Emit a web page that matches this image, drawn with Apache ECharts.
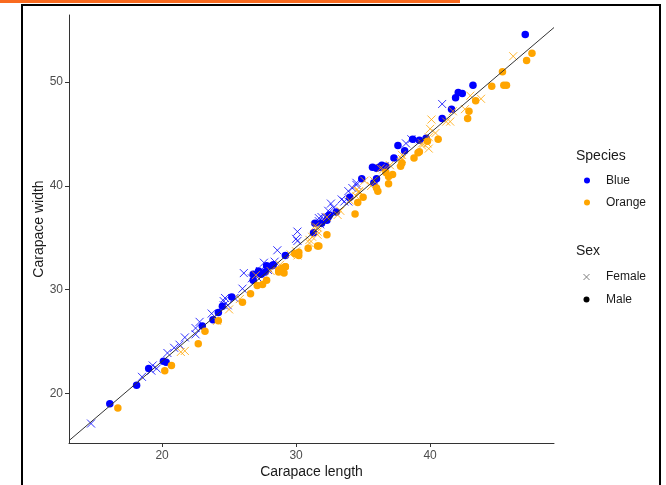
<!DOCTYPE html>
<html>
<head>
<meta charset="utf-8">
<title>Crab carapace: length vs width</title>
<script src="https://cdn.jsdelivr.net/npm/echarts@6/dist/echarts.min.js"></script>
<style>
  html, body { margin: 0; padding: 0; background: #ffffff; }
  #chart { width: 666px; height: 485px; }
</style>
</head>
<body>
<div id="chart"></div>
<script>
// Carapace length (CL) and width (CW), in mm, for each species / sex group
const blueMaleCL = [16.1,18.1,19.0,20.1,20.3,23.0,23.8,24.5,24.2,25.2,27.3,26.8,27.7,27.2,27.4,26.8,28.2,28.3,27.8,29.2,31.3,31.9,31.4,32.4,32.5,32.3,33.0,35.8,34.0,36.0,34.9,36.0,36.5,35.7,38.1,36.2,37.3,36.4,36.7,37.6,38.7,39.7,39.2,42.1,41.6,40.9,41.9,43.2,42.4,47.1];
const blueMaleCW = [19.0,20.8,22.4,23.1,23.0,26.5,27.1,28.4,27.8,29.3,31.6,31.5,31.7,31.8,31.5,30.9,32.3,32.4,32.3,33.3,35.5,36.4,36.4,37.0,37.2,36.7,37.5,40.3,38.9,40.7,40.7,41.7,41.8,41.8,43.4,41.8,42.7,42.0,41.9,43.9,44.5,44.6,44.4,49.0,47.4,46.5,48.5,49.7,48.9,54.6];

const blueFemaleCL = [14.7,19.3,18.5,19.2,19.6,20.4,20.9,21.3,21.7,22.5,22.5,22.8,24.7,24.6,23.7,24.9,26.0,24.6,25.4,26.1,27.1,26.7,27.9,27.3,27.6,27.9,28.4,28.6,30.0,30.1,30.1,31.7,32.2,31.8,31.9,31.7,33.9,32.6,32.4,33.4,32.8,33.9,33.6,34.5,34.5,34.2,36.6,38.2,38.6,40.9];
const blueFemaleCW = [17.1,22.7,21.6,22.2,22.4,23.9,24.4,24.7,25.4,26.3,25.7,26.9,29.2,28.5,27.7,28.5,30.1,28.9,29.2,31.6,31.2,31.1,31.9,31.8,32.6,32.1,32.7,33.8,34.9,34.7,35.6,36.9,37.0,36.3,37.0,36.6,38.5,38.3,37.6,38.7,37.9,39.5,38.5,40.3,40.1,39.8,41.9,44.1,44.5,47.9];

const orangeMaleCL = [16.7,20.2,20.7,22.7,23.2,24.2,26.0,27.1,26.6,27.5,29.2,28.9,29.1,28.7,28.7,27.8,29.2,29.9,29.0,30.2,30.9,30.2,31.7,32.3,31.6,35.0,36.1,34.4,34.6,36.0,36.9,36.7,38.8,37.9,37.8,36.9,37.2,39.2,39.1,39.8,40.6,42.8,42.9,45.5,45.7,43.4,45.4,44.6,47.2,47.6];
const orangeMaleCW = [18.6,22.2,22.7,24.8,26.0,27.0,28.8,30.4,29.6,30.5,32.2,31.8,31.6,31.9,31.7,30.9,32.2,33.5,32.1,33.3,34.0,33.6,34.2,35.3,34.2,38.9,39.5,37.3,38.4,39.8,40.9,41.3,42.7,42.2,41.9,40.2,41.1,43.3,43.2,44.3,44.5,46.5,47.2,49.7,49.7,48.2,51.0,49.6,52.1,52.8];

const orangeFemaleCL = [21.4,21.7,24.1,25.0,25.8,27.0,28.8,28.1,29.6,30.0,30.1,31.2,31.6,31.0,31.0,31.6,31.4,31.6,32.3,33.1,34.5,34.5,33.3,34.0,34.7,37.9,35.1,35.6,36.5,37.0,34.7,35.8,36.3,37.8,37.9,39.9,39.4,40.1,40.4,39.8,39.4,40.0,41.5,39.9,43.8,41.2,41.7,42.6,43.0,46.2];
const orangeFemaleCW = [24.0,24.1,27.0,28.1,29.1,31.4,32.4,31.8,33.4,33.7,33.3,35.1,35.3,34.5,34.8,36.0,36.1,35.6,37.0,37.2,39.6,39.0,37.6,38.6,39.5,43.0,40.5,40.0,41.6,42.0,39.4,40.5,41.7,42.3,42.6,43.6,43.9,46.4,45.1,44.1,44.1,45.5,46.2,44.7,48.4,46.2,47.2,47.4,48.7,52.5];

// Axis tick labels
const xTicks = [20, 30, 40];
const yTicks = [20, 30, 40, 50];

const BLUE = '#0000FF';
const ORANGE = '#FFA500';
const FONT = '"Liberation Sans", Arial, sans-serif';

const zip = (a, b) => a.map((v, i) => [v, b[i]]);

// Pooled least-squares fit of width on length
const allCL = [].concat(blueMaleCL, blueFemaleCL, orangeMaleCL, orangeFemaleCL);
const allCW = [].concat(blueMaleCW, blueFemaleCW, orangeMaleCW, orangeFemaleCW);
const mean = a => a.reduce((s, v) => s + v, 0) / a.length;
const mx = mean(allCL), my = mean(allCW);
let sxy = 0, sxx = 0;
allCL.forEach((x, i) => { sxy += (x - mx) * (allCW[i] - my); sxx += (x - mx) * (x - mx); });
const slope = sxy / sxx;
const intercept = my - slope * mx;

// Axis limits padded by 5% of the data range on each side
const pad = a => {
  const lo = Math.min(...a), hi = Math.max(...a), r = hi - lo;
  return [lo - 0.05 * r, hi + 0.05 * r];
};
const [xMin, xMax] = pad(allCL);
const [yMin, yMax] = pad(allCW);

const CROSS = 'path://M0,0L10,10M10,0L0,10';

function dots(name, cl, cw, color) {
  return {
    name, type: 'scatter', data: zip(cl, cw),
    symbol: 'circle', symbolSize: 7.5,
    itemStyle: { color, opacity: 1 },
    emphasis: { disabled: true }, silent: true
  };
}
function crosses(name, cl, cw, color) {
  return {
    name, type: 'scatter', data: zip(cl, cw),
    symbol: CROSS, symbolSize: 8,
    itemStyle: { color: 'none', borderColor: color, borderWidth: 1, opacity: 0.8 },
    emphasis: { disabled: true }, silent: true
  };
}

const axisStroke = { color: '#333333', width: 1 };

const chart = echarts.init(document.getElementById('chart'), null, { renderer: 'canvas' });
chart.setOption({
  animation: false,
  backgroundColor: '#ffffff',
  textStyle: { fontFamily: FONT },
  grid: { left: 69, right: 112, top: 15, bottom: 42, containLabel: false },
  xAxis: {
    type: 'value', min: xMin, max: xMax,
    name: 'Carapace length', nameLocation: 'middle', nameGap: 22, nameMoveOverlap: false,
    nameTextStyle: { fontSize: 14, color: '#1a1a1a', fontFamily: FONT },
    axisLine: { show: true, onZero: false, lineStyle: axisStroke },
    axisTick: { show: true, length: 4, inside: false, customValues: xTicks, lineStyle: axisStroke },
    axisLabel: { customValues: xTicks, fontSize: 12, color: '#4d4d4d', margin: 7, fontFamily: FONT },
    splitLine: { show: false }
  },
  yAxis: {
    type: 'value', min: yMin, max: yMax,
    name: 'Carapace width', nameLocation: 'middle', nameGap: 23, nameMoveOverlap: false,
    nameTextStyle: { fontSize: 14, color: '#1a1a1a', fontFamily: FONT },
    axisLine: { show: true, onZero: false, lineStyle: axisStroke },
    axisTick: { show: true, length: 4, inside: false, customValues: yTicks, lineStyle: axisStroke },
    axisLabel: { customValues: yTicks, fontSize: 12, color: '#4d4d4d', margin: 6, fontFamily: FONT },
    splitLine: { show: false }
  },
  series: [
    dots('Blue Male', blueMaleCL, blueMaleCW, BLUE),
    crosses('Blue Female', blueFemaleCL, blueFemaleCW, BLUE),
    dots('Orange Male', orangeMaleCL, orangeMaleCW, ORANGE),
    crosses('Orange Female', orangeFemaleCL, orangeFemaleCW, ORANGE),
    {
      name: 'Fit', type: 'line', silent: true, showSymbol: false, clip: true,
      data: [[xMin, intercept + slope * xMin], [xMax, intercept + slope * xMax]],
      lineStyle: { color: '#333333', width: 1 },
      emphasis: { disabled: true }
    }
  ],
  graphic: [
    // page frame and accent bar
    { type: 'rect', shape: { x: 0, y: 0, width: 460, height: 3 }, style: { fill: '#f96a1f' }, silent: true },
    { type: 'rect', shape: { x: 22, y: 5, width: 638, height: 500 }, style: { fill: 'none', stroke: '#000000', lineWidth: 2 }, silent: true },
    // legend: species colour
    { type: 'text', x: 576, y: 156, style: { text: 'Species', font: '14px ' + FONT, fill: '#1a1a1a', verticalAlign: 'middle' } },
    { type: 'circle', shape: { cx: 587, cy: 180.5, r: 3 }, style: { fill: BLUE } },
    { type: 'text', x: 606, y: 181, style: { text: 'Blue', font: '12px ' + FONT, fill: '#1a1a1a', verticalAlign: 'middle' } },
    { type: 'circle', shape: { cx: 587, cy: 202.5, r: 3 }, style: { fill: ORANGE } },
    { type: 'text', x: 606, y: 203, style: { text: 'Orange', font: '12px ' + FONT, fill: '#1a1a1a', verticalAlign: 'middle' } },
    // legend: sex shape
    { type: 'text', x: 576, y: 251, style: { text: 'Sex', font: '14px ' + FONT, fill: '#1a1a1a', verticalAlign: 'middle' } },
    { type: 'line', shape: { x1: 583.5, y1: 274, x2: 589.5, y2: 280 }, style: { stroke: '#7f7f7f', lineWidth: 1 } },
    { type: 'line', shape: { x1: 589.5, y1: 274, x2: 583.5, y2: 280 }, style: { stroke: '#7f7f7f', lineWidth: 1 } },
    { type: 'text', x: 606, y: 277, style: { text: 'Female', font: '12px ' + FONT, fill: '#1a1a1a', verticalAlign: 'middle' } },
    { type: 'circle', shape: { cx: 586.5, cy: 299.5, r: 3 }, style: { fill: '#000000' } },
    { type: 'text', x: 606, y: 300, style: { text: 'Male', font: '12px ' + FONT, fill: '#1a1a1a', verticalAlign: 'middle' } }
  ]
});
</script>
</body>
</html>
